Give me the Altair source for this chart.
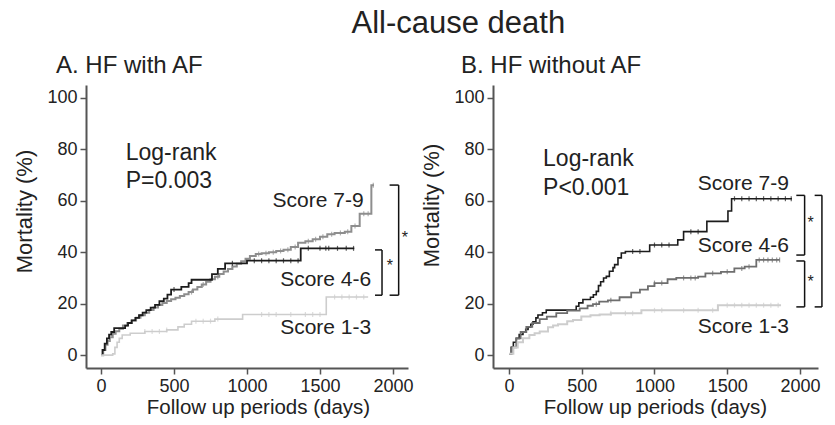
import altair as alt
import pandas as pd

FONT = "Liberation Sans"
TXT = "#222222"

# ---------------- Panel A: HF with AF ----------------
a79_t = [0, 15, 30, 45, 60, 80, 100, 125, 150, 180, 210, 240, 270, 300, 330, 360, 390, 420, 450, 480,
         510, 540, 570, 600, 630, 660, 690, 720, 750, 780, 810, 840, 870, 900, 930, 960, 990, 1020,
         1060, 1100, 1150, 1200, 1250, 1300, 1350, 1400, 1450, 1500, 1550, 1600, 1670, 1715, 1772, 1852, 1870]
a79_v = [0, 2, 4, 5.5, 7, 8.3, 9.3, 10.3, 11.5, 12.5, 13.5, 14.5, 15.5, 16.5, 17.5, 18.5, 19.5, 20.3, 21, 21.7,
         22.3, 23, 23.7, 24.5, 25.5, 26.5, 27.5, 28.5, 29.5, 30.5, 31.5, 32.5, 33.5, 34.5, 35.5, 36.5, 37.5, 38.5,
         39.3, 39.6, 40, 40.5, 41, 42, 43.7, 44.3, 45, 46, 47, 47.5, 48, 50.2, 55, 66, 66]
a79_cens = [620, 700, 800, 900, 1080, 1130, 1180, 1230, 1280, 1330, 1420, 1470, 1520, 1580, 1640, 1690,
            1740, 1800, 1830, 1865]

a46_t = [0, 10, 25, 40, 55, 70, 90, 165, 185, 210, 235, 260, 285, 310, 340, 370, 400, 430, 455, 480,
         550, 600, 620, 760, 800, 850, 1000, 1368, 1735]
a46_v = [0, 2, 4.5, 6.5, 8, 9, 10.5, 11.5, 12.5, 13.5, 14.5, 15.5, 16.5, 17.5, 18.5, 19.5, 21, 22, 23.5, 25.5,
         26.5, 28, 29.3, 31.5, 33.5, 35.7, 36.7, 41.5, 41.5]
a46_cens = [500, 900, 1050, 1100, 1150, 1200, 1250, 1300, 1350, 1420, 1500, 1540, 1560, 1620, 1680, 1730]

a13_t = [0, 80, 95, 110, 125, 145, 200, 300, 450, 527, 570, 620, 780, 970, 1543, 1830]
a13_v = [0, 0.5, 3, 5, 6.5, 7.8, 8.5, 9.2, 9.8, 11, 12, 13.2, 14, 15.8, 22.6, 22.6]
a13_cens = [300, 350, 400, 450, 650, 700, 750, 800, 1100, 1150, 1200, 1300, 1400, 1450, 1500, 1600, 1650,
            1700, 1750, 1800]

# ---------------- Panel B: HF without AF ----------------
b79_t = [0, 15, 30, 50, 70, 96, 115, 131, 150, 165, 185, 199, 230, 256, 462, 480, 508, 560, 580, 600,
         615, 630, 650, 669, 690, 715, 726, 749, 772, 800, 967, 1160, 1200, 1360, 1505, 1530, 1945]
b79_v = [0.5, 3, 5, 6.5, 8, 9, 10, 11, 12, 13, 14.5, 15.6, 16.5, 17.5, 19, 20.3, 21.6, 22.5, 23.5, 24.8,
         27, 28.5, 30, 30.6, 32.6, 34, 35.2, 37.8, 39.7, 40.3, 42.8, 44.8, 48, 52, 56, 60.8, 60.8]
b79_cens = [850, 900, 1000, 1050, 1100, 1250, 1300, 1550, 1600, 1650, 1700, 1750, 1800, 1850, 1900, 1940]

b46_t = [0, 20, 50, 80, 119, 160, 211, 260, 325, 400, 486, 540, 577, 620, 680, 760, 840, 900, 955, 1000,
         1090, 1150, 1300, 1350, 1457, 1549, 1620, 1700, 1860]
b46_v = [0.5, 3, 6.5, 9, 11, 12.5, 14, 15, 16.3, 17.3, 18.2, 19.2, 19.8, 20.8, 21.3, 22.5, 24.3, 25.5, 26.8, 28,
         29.5, 30, 30.5, 31.8, 32.4, 33.7, 34.4, 37, 37]
b46_cens = [600, 700, 1000, 1050, 1200, 1250, 1280, 1400, 1500, 1600, 1650, 1720, 1750, 1780, 1810, 1840, 1860]

b13_t = [0, 30, 60, 96, 140, 176, 211, 268, 303, 337, 400, 440, 497, 560, 623, 700, 910, 1436, 1870]
b13_v = [0.5, 3, 5, 6.6, 7.8, 8.5, 9.2, 10.8, 11.5, 12, 13.2, 13.7, 15, 15.5, 15.8, 16.3, 17.4, 19.4, 19.4]
b13_cens = [700, 800, 850, 1000, 1050, 1200, 1300, 1400, 1500, 1550, 1600, 1650, 1700, 1750, 1800, 1850]

series_names = ["Score 7-9", "Score 4-6", "Score 1-3"]
colors_a = ["#8e8e8e", "#1c1c1c", "#cdcdcd"]
colors_b = ["#1c1c1c", "#6e6e6e", "#cdcdcd"]
widths_a = [2.0, 1.6, 2.0]
widths_b = [1.6, 2.0, 2.0]

# annotation texts (data coordinates)
a_label_t = [1799, 1851, 1851]
a_label_v = [57.7, 26.8, 8.4]
b_label_t = [1924, 1924, 1924]
b_label_v = [64.3, 40.2, 8.7]
a_logrank = ["Log-rank", "P=0.003"]
b_logrank = ["Log-rank", "P<0.001"]
a_lr_t, a_lr_v = [169, 169], [75.9, 64.9]
b_lr_t, b_lr_v = [234, 234], [73.4, 62.4]

# significance brackets: (x_vertical, x_tick_start, y_low, y_high)
a_brackets = [(2039, 1977, 23.3, 66.1), (1925, 1877, 23.3, 40.9)]
b_brackets = [(2032, 1975, 38.9, 62.1), (2032, 1975, 18.75, 36.6), (2151, 2101, 18.75, 62.1)]
a_stars_t, a_stars_v = [1979, 2082], [34.6, 45.5]
b_stars_t, b_stars_v = [2073, 2073], [51.3, 28.5]

x_ticks = [0, 500, 1000, 1500, 2000]
y_ticks = [0, 20, 40, 60, 80, 100]


def step_value(ts, vs, t):
    val = vs[0]
    for ti, vi in zip(ts, vs):
        if ti <= t:
            val = vi
    return val


def curves_df(ts, vs):
    rows = []
    for name, t, v in zip(series_names, ts, vs):
        for ti, vi in zip(t, v):
            rows.append({"series": name, "t": ti, "v": vi})
    return pd.DataFrame(rows)


def censor_df(ts, vs, cs):
    rows = []
    for name, t, v, c in zip(series_names, ts, vs, cs):
        for ci in c:
            rows.append({"series": name, "t": ci, "v": step_value(t, v, ci)})
    return pd.DataFrame(rows)


def panel(title, dx_title, curves, cens, colors, widths, labels_t, labels_v, lr_text, lr_t, lr_v,
          brackets, stars_t, stars_v, xdom, width, x_title_x, y_title_y):
    xs = alt.Scale(domain=xdom, nice=False, zero=False)
    ys = alt.Scale(domain=[-5, 105], nice=False, zero=False)
    xax = alt.Axis(values=x_ticks, format="d", title="Follow up periods (days)", titleX=x_title_x)
    yax = alt.Axis(values=y_ticks, format="d", title="Mortality (%)", titleY=y_title_y)
    cscale = alt.Scale(domain=series_names, range=colors)

    lines = alt.Chart(curves).mark_line(interpolate="step-after").encode(
        x=alt.X("t:Q", scale=xs, axis=xax),
        y=alt.Y("v:Q", scale=ys, axis=yax),
        color=alt.Color("series:N", scale=cscale, legend=None),
        strokeWidth=alt.StrokeWidth("series:N", scale=alt.Scale(domain=series_names, range=widths), legend=None),
        order=alt.Order("t:Q"),
    )
    ticks = alt.Chart(cens).mark_tick(orient="vertical", size=5, thickness=1.2).encode(
        x=alt.X("t:Q", scale=xs), y=alt.Y("v:Q", scale=ys),
        color=alt.Color("series:N", scale=cscale, legend=None),
    )

    lab_df = pd.DataFrame({"t": labels_t, "v": labels_v, "text": series_names})
    labels = alt.Chart(lab_df).mark_text(align="right", baseline="alphabetic", fontSize=21,
                                         font=FONT, color=TXT).encode(
        x=alt.X("t:Q", scale=xs), y=alt.Y("v:Q", scale=ys), text="text:N")

    lr_df = pd.DataFrame({"t": lr_t, "v": lr_v, "text": lr_text})
    lr = alt.Chart(lr_df).mark_text(align="left", baseline="alphabetic", fontSize=23,
                                    font=FONT, color=TXT).encode(
        x=alt.X("t:Q", scale=xs), y=alt.Y("v:Q", scale=ys), text="text:N")

    vert = pd.DataFrame({"x": [b[0] for b in brackets], "y": [b[2] for b in brackets],
                         "y2": [b[3] for b in brackets]})
    horiz_rows = []
    for b in brackets:
        horiz_rows.append({"x": b[1], "x2": b[0], "y": b[2]})
        horiz_rows.append({"x": b[1], "x2": b[0], "y": b[3]})
    horiz = pd.DataFrame(horiz_rows)
    vrules = alt.Chart(vert).mark_rule(color="#111111", strokeWidth=1.5).encode(
        x=alt.X("x:Q", scale=xs), y=alt.Y("y:Q", scale=ys), y2="y2:Q")
    hrules = alt.Chart(horiz).mark_rule(color="#111111", strokeWidth=1.5).encode(
        x=alt.X("x:Q", scale=xs), x2="x2:Q", y=alt.Y("y:Q", scale=ys))

    st_df = pd.DataFrame({"t": stars_t, "v": stars_v, "text": ["*"] * len(stars_t)})
    stars = alt.Chart(st_df).mark_text(align="center", baseline="middle", fontSize=16,
                                       font=FONT, color=TXT).encode(
        x=alt.X("t:Q", scale=xs), y=alt.Y("v:Q", scale=ys), text="text:N")

    return alt.layer(lines, ticks, labels, lr, vrules, hrules, stars).properties(
        width=width, height=283,
        title=alt.TitleParams(title, anchor="start", fontSize=24, font=FONT, color=TXT,
                              fontWeight="normal", dx=dx_title, offset=-12, baseline="alphabetic",
                              frame="group"),
    )


a_ts, a_vs, a_cs = [a79_t, a46_t, a13_t], [a79_v, a46_v, a13_v], [a79_cens, a46_cens, a13_cens]
b_ts, b_vs, b_cs = [b79_t, b46_t, b13_t], [b79_v, b46_v, b13_v], [b79_cens, b46_cens, b13_cens]

pa = panel("A. HF with AF", -30, curves_df(a_ts, a_vs), censor_df(a_ts, a_vs, a_cs),
           colors_a, widths_a, a_label_t, a_label_v, a_logrank, a_lr_t, a_lr_v,
           a_brackets, a_stars_t, a_stars_v, [-103, 2103], 322, 172, 126)
pb = panel("B. HF without AF", -32, curves_df(b_ts, b_vs), censor_df(b_ts, b_vs, b_cs),
           colors_b, widths_b, b_label_t, b_label_v, b_logrank, b_lr_t, b_lr_v,
           b_brackets, b_stars_t, b_stars_v, [-110, 2124], 325, 162, 120)

chart = alt.hconcat(pa, pb, spacing=85, bounds="flush").resolve_scale(
    x="independent", y="independent", color="independent", strokeWidth="independent"
).properties(
    title=alt.TitleParams("All-cause death", fontSize=31, font=FONT, color=TXT, fontWeight="normal",
                          anchor="middle", baseline="alphabetic", offset=-10, dx=40),
    padding={"left": 5, "top": 0, "right": 0, "bottom": 0},
).configure_axis(
    grid=False, domainColor="#555555", domainWidth=2, tickColor="#555555", tickWidth=1.5, tickSize=6,
    labelFont=FONT, labelFontSize=18, labelColor=TXT, labelPadding=3,
    titleFont=FONT, titleColor=TXT, titleFontWeight="normal",
).configure_axisY(titleFontSize=22, titlePadding=10).configure_axisX(
    titleFontSize=20.5, titlePadding=2
).configure_view(stroke=None)

chart.save("out.html", embed_options={"renderer": "svg", "actions": False})
